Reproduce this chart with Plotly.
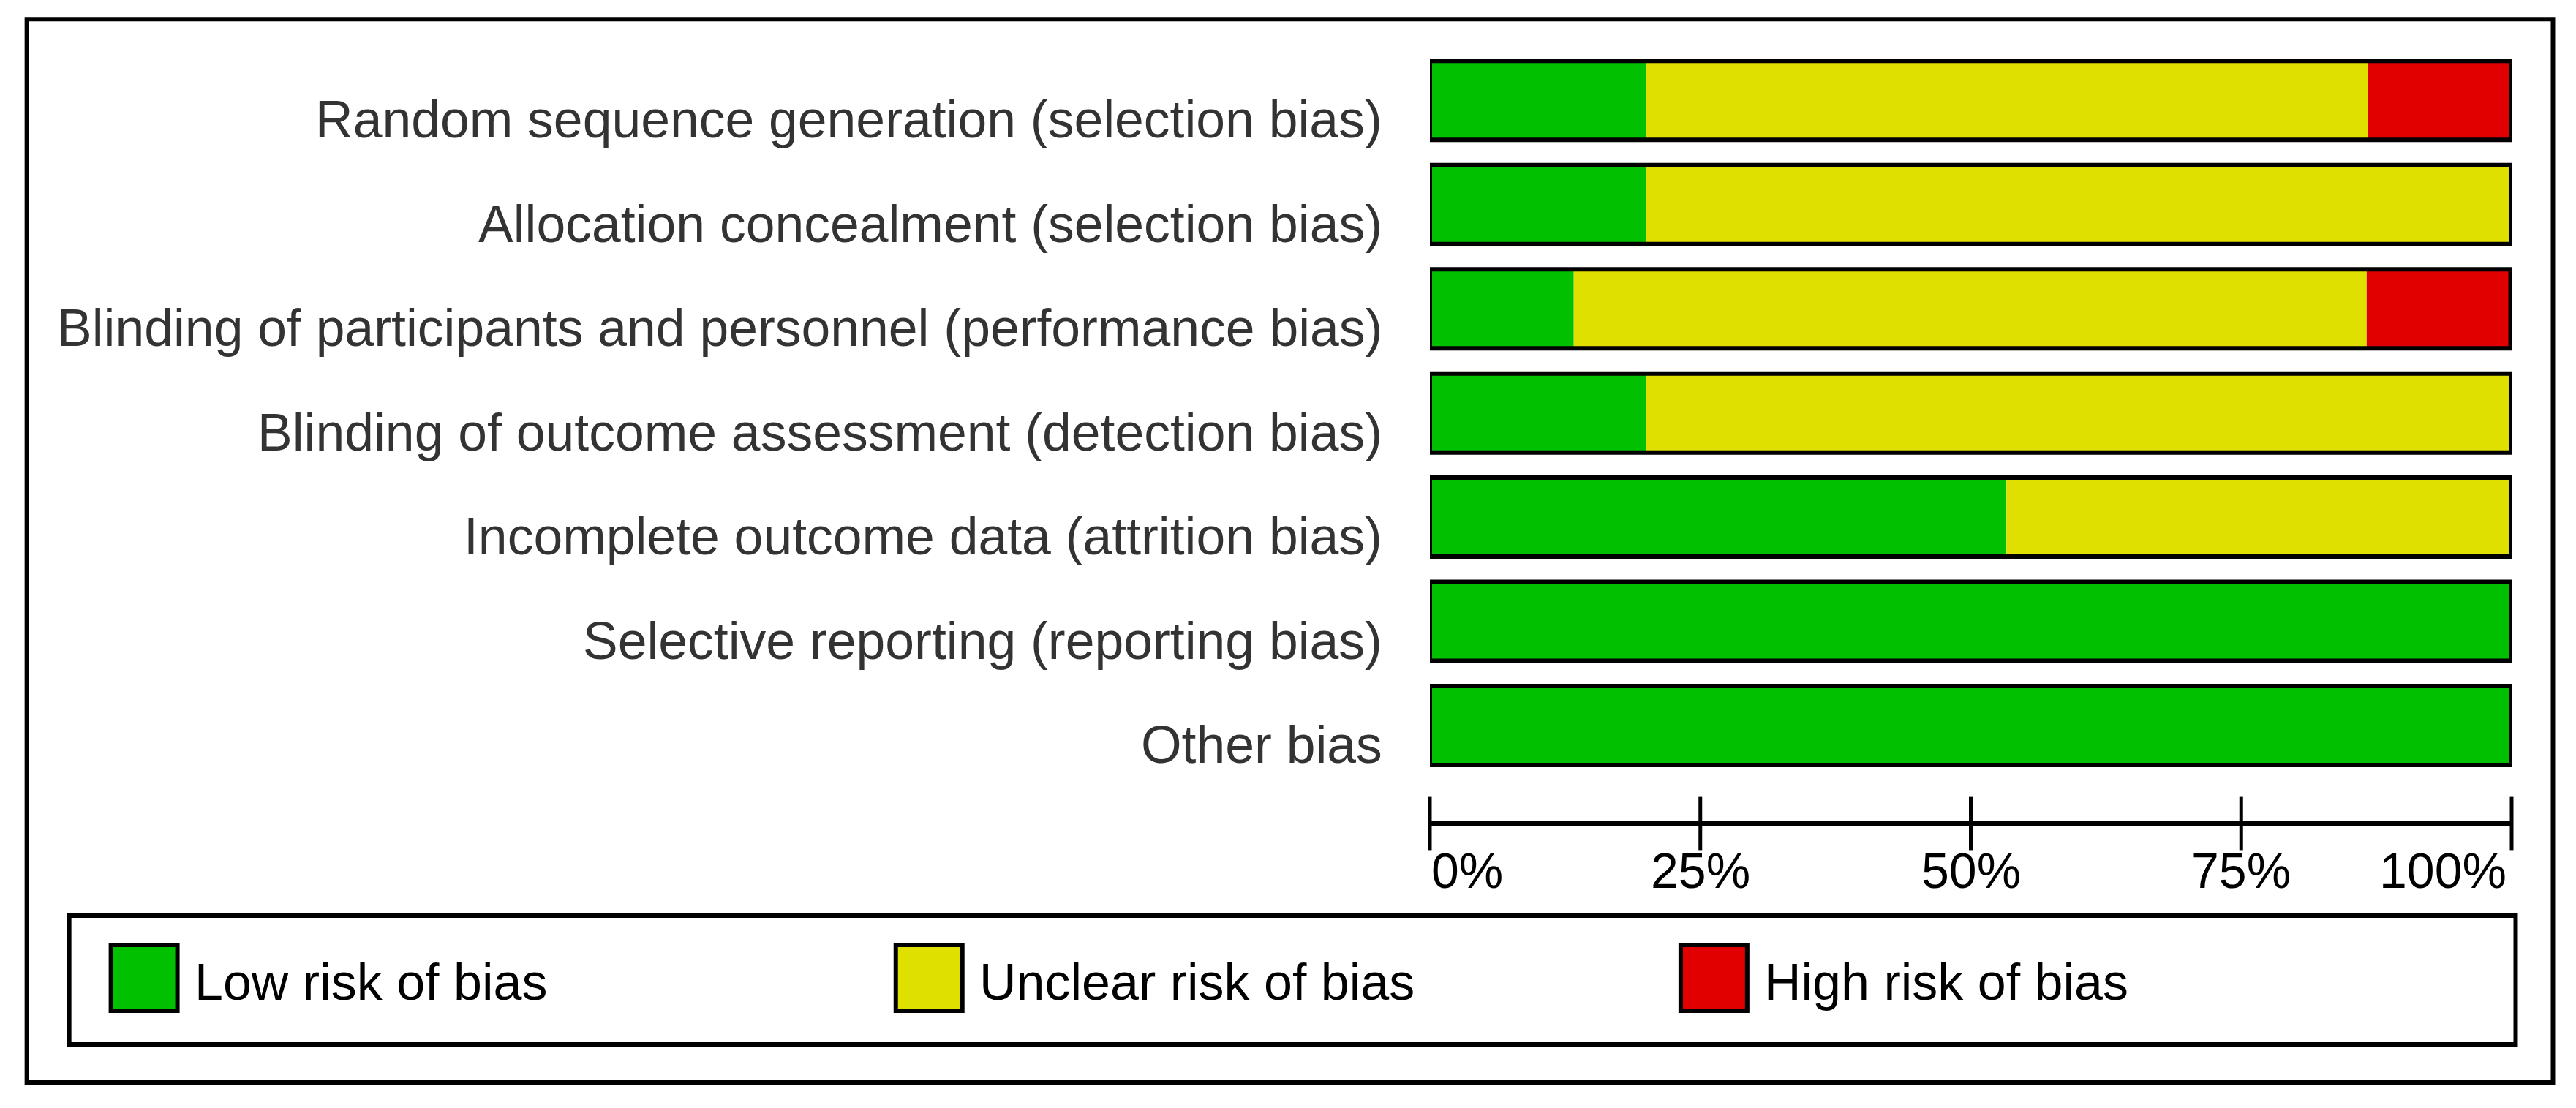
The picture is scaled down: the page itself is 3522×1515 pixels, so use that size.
import plotly.graph_objects as go

# ---------------- data ----------------
categories = [
    "Random sequence generation (selection bias)",
    "Allocation concealment (selection bias)",
    "Blinding of participants and personnel (performance bias)",
    "Blinding of outcome assessment (detection bias)",
    "Incomplete outcome data (attrition bias)",
    "Selective reporting (reporting bias)",
    "Other bias",
]
low_risk = [20.0, 20.0, 13.3, 20.0, 53.3, 100.0, 100.0]
unclear_risk = [66.7, 80.0, 73.3, 80.0, 46.7, 0.0, 0.0]
high_risk = [13.3, 0.0, 13.3, 0.0, 0.0, 0.0, 0.0]
series_names = ["Low risk of bias", "Unclear risk of bias", "High risk of bias"]
tick_values = [0, 25, 50, 75, 100]
tick_labels = ["0%", "25%", "50%", "75%", "100%"]

# ---------------- style ----------------
colors = ["#00C000", "#E0E000", "#E00000"]
FONT = "Liberation Sans, Arial, sans-serif"
OFF = 8                      # page body margin in the browser
W, H = 3522 - OFF, 1515 - OFF
# plot area in screen pixels
L, R, T, B = 1955, 3434.5, 65.75, 1170
PITCH = 142.5                # pixel distance between bar centres
AXIS_Y = 1126                # pixel row of the percentage axis line


def px(x):
    return (x - L) / (R - L)


def py(y):
    return (B - y) / (B - T)


series = [low_risk, unclear_risk, high_risk]
fig = go.Figure()

base = [0.0] * len(categories)
for name, vals, col in zip(series_names, series, colors):
    fig.add_trace(go.Bar(
        y=categories, x=vals, base=list(base), orientation="h", name=name,
        marker=dict(color=col, line=dict(width=0)), showlegend=False,
        xaxis="x", yaxis="y",
    ))
    base = [b + v for b, v in zip(base, vals)]

# outline of each full bar
fig.add_trace(go.Bar(
    y=categories, x=base, base=[0.0] * len(categories), orientation="h",
    marker=dict(color="rgba(0,0,0,0)", line=dict(color="black", width=6)),
    showlegend=False, xaxis="x", yaxis="y", hoverinfo="skip",
))

# percentage axis: line and tick marks crossing it
axis_v = py(AXIS_Y)
fig.add_trace(go.Scatter(
    x=[tick_values[0], tick_values[-1]], y=[axis_v, axis_v], mode="lines",
    line=dict(color="black", width=6), xaxis="x", yaxis="y2",
    cliponaxis=False, showlegend=False, hoverinfo="skip",
))
fig.add_trace(go.Scatter(
    x=tick_values, y=[axis_v] * len(tick_values), mode="markers",
    marker=dict(symbol="line-ns", size=52, color="black",
                line=dict(color="black", width=5)),
    xaxis="x", yaxis="y2", cliponaxis=False, showlegend=False, hoverinfo="skip",
))

annotations = []
# category labels
for c in categories:
    annotations.append(dict(
        x=0, xref="paper", y=c, yref="y", text=c, showarrow=False,
        xanchor="right", yanchor="middle", xshift=-63, yshift=-26,
        font=dict(family=FONT, size=71.5, color="#333333"),
    ))
# tick labels
for i, (tv, tl) in enumerate(zip(tick_values, tick_labels)):
    if i == 0:
        anchor, xs = "left", 0
    elif i == len(tick_values) - 1:
        anchor, xs = "right", -5
    else:
        anchor, xs = "center", 0
    annotations.append(dict(
        x=tv, xref="x", y=py(1190), yref="paper", text=tl, showarrow=False,
        xanchor=anchor, yanchor="middle", xshift=xs,
        font=dict(family=FONT, size=68, color="black"),
    ))

shapes = []
# outer frame
shapes.append(dict(type="rect", xref="paper", yref="paper",
                   x0=px(36), x1=px(3491), y0=py(26), y1=py(1480),
                   line=dict(color="black", width=6), fillcolor="rgba(0,0,0,0)", layer="below"))
# legend frame
shapes.append(dict(type="rect", xref="paper", yref="paper",
                   x0=px(94), x1=px(3440), y0=py(1252), y1=py(1428),
                   line=dict(color="black", width=6), fillcolor="rgba(0,0,0,0)"))
# legend entries
for i, (name, col) in enumerate(zip(series_names, colors)):
    sx = 151 + i * 1073.5
    shapes.append(dict(type="rect", xref="paper", yref="paper",
                       x0=px(sx), x1=px(sx + 91), y0=py(1292), y1=py(1382),
                       line=dict(color="black", width=6), fillcolor=col))
    annotations.append(dict(
        x=px(sx + 112), xref="paper", y=py(1343), yref="paper", text=name,
        showarrow=False, xanchor="left", yanchor="middle",
        font=dict(family=FONT, size=70, color="black"),
    ))

fig.update_layout(
    width=W, height=H, autosize=False,
    margin=dict(l=L - OFF, r=W - (R - OFF), t=T - OFF, b=H - (B - OFF), pad=0),
    paper_bgcolor="white", plot_bgcolor="rgba(0,0,0,0)",
    barmode="overlay", bargap=0.242,
    showlegend=False,
    xaxis=dict(range=[0, 100], showticklabels=False, ticks="", showline=False,
               showgrid=False, zeroline=False, fixedrange=True),
    yaxis=dict(type="category", categoryorder="array", categoryarray=categories,
               range=[-0.5 + (B - T) / PITCH, -0.5], showticklabels=False,
               showgrid=False, zeroline=False, showline=False, ticks="",
               fixedrange=True),
    yaxis2=dict(range=[0, 1], overlaying="y", anchor="x", side="right",
                visible=False, fixedrange=True),
    annotations=annotations,
    shapes=shapes,
)

fig.write_html("out.html")
